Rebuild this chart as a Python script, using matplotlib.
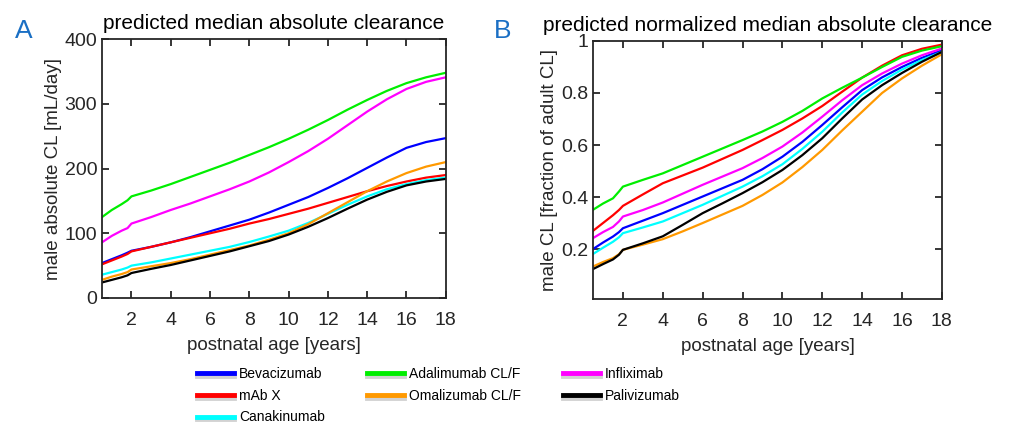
import numpy as np
import matplotlib.pyplot as plt
import matplotlib.patheffects as pe
from matplotlib.ticker import FuncFormatter

plt.rcParams['font.family'] = ['Liberation Sans', 'DejaVu Sans']

# -----------------------------
# Datos
# -----------------------------

age = [0.5, 1, 1.5, 1.8, 2, 3, 4, 5, 6, 7, 8, 9, 10, 11, 12, 13, 14, 15, 16, 17, 18]

names = ["Bevacizumab", "mAb X", "Canakinumab", "Adalimumab CL/F",
         "Omalizumab CL/F", "Infliximab", "Palivizumab"]
colores = ["#0000ff", "#ff0000", "#00ffff", "#00ee00",
           "#ff9900", "#ff00ff", "#000000"]

# panel A: absolute CL [mL/day]
cl_bev = [54, 60, 66, 70, 73, 79, 86, 94, 103, 112, 121, 132, 144, 156, 170, 185, 201, 217, 232, 241, 247]
cl_mabx = [52, 58, 64, 68, 72, 79, 86, 93, 100, 107, 115, 122, 130, 138, 147, 156, 165, 173, 180, 186, 190]
cl_cana = [36, 40, 44, 47, 50, 55, 61, 67, 73, 79, 86.5, 95, 104, 116, 130, 144, 157, 168, 176, 182, 186]
cl_adal = [125, 136, 145, 151, 157, 166, 176, 187, 198, 209, 221, 233, 246, 260, 275, 291, 306, 320, 332, 341, 348]
cl_omal = [28, 33, 37, 40, 44, 49, 54, 60, 67, 74, 81, 90, 100, 114, 131, 148, 165, 180, 193, 203, 210]
cl_infl = [86, 96, 104, 108, 115, 125, 136, 146, 157, 168, 180, 194, 210, 227, 246, 267, 288, 307, 323, 334, 341]
cl_pali = [24, 28, 32, 35, 38.6, 45, 51, 58, 65, 72, 80, 88, 98, 110, 123.5, 138, 152, 164, 174, 180, 184]

# panel B: fraction of adult CL
fr_bev = [0.200, 0.225, 0.248, 0.265, 0.280, 0.309, 0.338, 0.370, 0.402, 0.434, 0.466, 0.507, 0.555, 0.612, 0.677, 0.745, 0.811, 0.860, 0.900, 0.935, 0.964]
fr_mabx = [0.270, 0.300, 0.330, 0.350, 0.366, 0.410, 0.453, 0.483, 0.513, 0.547, 0.581, 0.619, 0.658, 0.702, 0.750, 0.805, 0.859, 0.905, 0.945, 0.970, 0.986]
fr_cana = [0.181, 0.205, 0.228, 0.245, 0.261, 0.283, 0.306, 0.338, 0.370, 0.405, 0.440, 0.480, 0.526, 0.585, 0.651, 0.725, 0.794, 0.846, 0.890, 0.927, 0.958]
fr_adal = [0.351, 0.375, 0.395, 0.421, 0.440, 0.466, 0.491, 0.523, 0.555, 0.587, 0.619, 0.652, 0.689, 0.731, 0.779, 0.820, 0.859, 0.900, 0.939, 0.963, 0.980]
fr_omal = [0.133, 0.150, 0.165, 0.180, 0.197, 0.217, 0.238, 0.268, 0.300, 0.333, 0.366, 0.408, 0.456, 0.515, 0.581, 0.656, 0.728, 0.800, 0.856, 0.905, 0.949]
fr_infl = [0.242, 0.265, 0.285, 0.306, 0.325, 0.350, 0.379, 0.413, 0.447, 0.479, 0.511, 0.550, 0.594, 0.648, 0.709, 0.772, 0.830, 0.875, 0.913, 0.945, 0.971]
fr_pali = [0.123, 0.142, 0.160, 0.178, 0.197, 0.222, 0.249, 0.293, 0.338, 0.376, 0.415, 0.457, 0.504, 0.561, 0.626, 0.702, 0.775, 0.830, 0.877, 0.920, 0.958]

abs_cl = [cl_bev, cl_mabx, cl_cana, cl_adal, cl_omal, cl_infl, cl_pali]
norm_cl = [fr_bev, fr_mabx, fr_cana, fr_adal, fr_omal, fr_infl, fr_pali]

# -----------------------------
# Figura
# -----------------------------

fig = plt.figure(figsize=(10.2, 4.3), dpi=100)
axA = fig.add_axes([0.100, 0.307, 0.337, 0.602])
axB = fig.add_axes([0.5814, 0.3047, 0.342, 0.600])

gris = "#262626"

def estilo(ax):
    for s in ax.spines.values():
        s.set_color(gris)
        s.set_linewidth(1.3)
    ax.tick_params(direction="in", length=5, width=1.3, top=True, right=True,
                   labelsize=14, colors=gris)
    ax.tick_params(axis="x", pad=10)
    ax.tick_params(axis="y", pad=3.5)
    ax.set_xlim(0.5, 18)
    ax.set_xticks(np.arange(2, 19, 2))
    ax.set_xlabel("postnatal age [years]", fontsize=13.5, color=gris, labelpad=6)

for ys, c, n in zip(abs_cl, colores, names):
    axA.plot(age, ys, color=c, lw=1.6, label=n)
estilo(axA)
axA.set_ylim(0, 400)
axA.set_yticks([0, 100, 200, 300, 400])
axA.set_ylabel("male absolute CL [mL/day]", fontsize=13.5, color=gris, labelpad=2)
axA.set_title("predicted median absolute clearance", fontsize=15, pad=7)

for ys, c, n in zip(norm_cl, colores, names):
    axB.plot(age, ys, color=c, lw=1.6, label=n)
estilo(axB)
axB.set_ylim(0.008, 1)
axB.set_yticks([0.2, 0.4, 0.6, 0.8, 1.0])
axB.yaxis.set_major_formatter(FuncFormatter(lambda v, p: f"{v:g}"))
axB.set_ylabel("male CL [fraction of adult CL]", fontsize=13.5, color=gris, labelpad=2)
axB.set_title("predicted normalized median absolute clearance", fontsize=15, pad=7)

fig.text(0.015, 0.912, "A", fontsize=19, color="#1a6fc4")
fig.text(0.484, 0.912, "B", fontsize=19, color="#1a6fc4")

leg = fig.legend(handles=axA.get_lines(), loc="upper left", ncol=3,
                 bbox_to_anchor=(0.193, 0.146), frameon=False, fontsize=10,
                 handlelength=2.7, handletextpad=0.35, columnspacing=3.0,
                 labelspacing=0.55, borderpad=0, borderaxespad=0)
for h in leg.get_lines():
    h.set_linewidth(3.5)
    h.set_path_effects([pe.SimpleLineShadow(offset=(0, -2), shadow_color="gray", alpha=0.35),
                        pe.Normal()])

fig.savefig("out.png", dpi=100)
